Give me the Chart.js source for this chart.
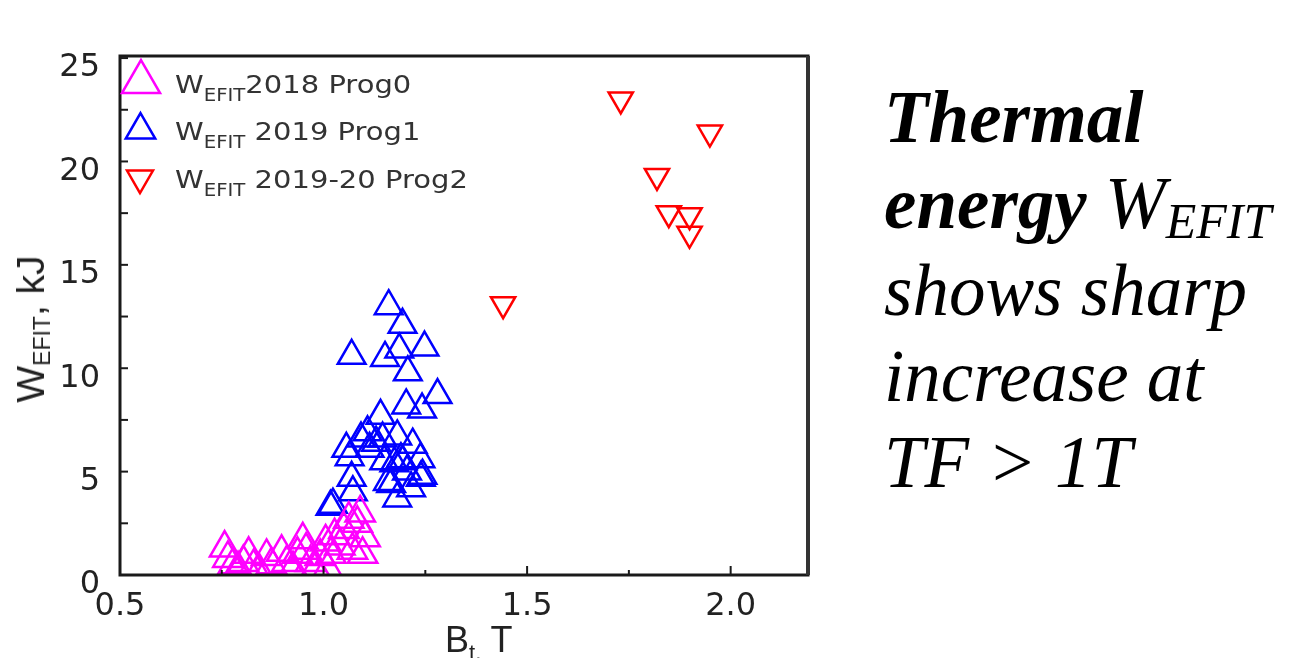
<!DOCTYPE html>
<html>
<head>
<meta charset="utf-8">
<script src="https://cdn.jsdelivr.net/npm/chart.js@4.4.0/dist/chart.umd.min.js"></script>
<style>
  body { margin: 0; background: #fff; width: 1291px; height: 658px; overflow: hidden; position: relative; }
  #plot { position: absolute; left: 0; top: 0; }
  .lbl { position: absolute; font-family: "Liberation Sans", Arial, sans-serif; color: #222; white-space: nowrap; }
  .lbl sub { line-height: 0; }
  #xTitle { left: 445px; top: 622px; font-size: 36px; line-height: 36px; }
  #xTitle sub { font-size: 22px; vertical-align: -8px; }
  #yTitle { left: 31px; top: 329px; font-size: 39px; line-height: 40px; transform: translate(-50%, -50%) rotate(-90deg); }
  #yTitle sub { font-size: 23px; vertical-align: -6px; }
  .leg { font-family: "DejaVu Sans", sans-serif; font-size: 25px; line-height: 25px; color: #333; left: 175px; transform: scaleX(1.16); transform-origin: left center; }
  .leg sub { font-size: 17px; vertical-align: -8px; }
  #note { position: absolute; left: 884px; top: 75px; font-family: "Liberation Serif", "Times New Roman", serif; font-style: italic; font-size: 73px; line-height: 86.3px; color: #000; white-space: nowrap; }
  #note sub { font-size: 50px; line-height: 0; vertical-align: -10px; }
</style>
</head>
<body>
<canvas id="plot" width="860" height="658"></canvas>
<div class="lbl" id="yTitle">W<sub>EFIT</sub>, kJ</div>
<div class="lbl" id="xTitle">B<sub>t,</sub> T</div>
<div class="lbl leg" style="top:72px">W<sub>EFIT</sub>2018 Prog0</div>
<div class="lbl leg" style="top:119px">W<sub>EFIT</sub> 2019 Prog1</div>
<div class="lbl leg" style="top:167px">W<sub>EFIT</sub> 2019-20 Prog2</div>
<div id="note">
  <div><b>Thermal</b></div>
  <div><b>energy</b> W<sub>EFIT</sub></div>
  <div>shows sharp</div>
  <div>increase at</div>
  <div>TF &gt; 1T</div>
</div>
<script>
// valori: B_t (T) e W_EFIT (kJ)
const prog0Bt = [0.757, 0.765, 0.778, 0.790, 0.803, 0.816, 0.828, 0.842, 0.860, 0.872, 0.897, 0.910, 0.925, 0.936, 0.949, 0.957, 0.968, 0.980, 0.992, 1.005, 1.010, 1.018, 1.027, 1.040, 1.050, 1.062, 1.071, 1.083, 1.090, 1.096, 1.102];
const prog0W  = [1.3, 0.8, 0.5, 0.3, 0.6, 1.0, 0.4, 0.2, 0.9, 0.5, 1.1, 0.6, 0.3, 1.0, 1.7, 1.2, 0.6, 0.3, 0.9, 1.6, 0.3, 1.0, 1.9, 1.4, 2.2, 2.7, 1.2, 2.5, 3.0, 1.0, 1.8];

const prog1Bt = [1.160, 1.194, 1.069, 1.248, 1.151, 1.186, 1.207, 1.280, 1.203, 1.242, 1.140, 1.092, 1.145, 1.181, 1.219, 1.056, 1.238, 1.190, 1.149, 1.064, 1.069, 1.239, 1.166, 1.215, 1.181, 1.072, 1.017, 1.113, 1.174, 1.129, 1.194, 1.243, 1.158, 1.108, 1.205, 1.023];
const prog1W  = [13.0, 12.1, 10.6, 11.0, 10.5, 10.9, 9.8, 8.7, 8.2, 8.0, 7.7, 6.6, 6.6, 6.7, 6.3, 6.1, 5.6, 5.6, 5.5, 5.7, 4.7, 4.7, 4.4, 4.2, 3.7, 4.0, 3.3, 6.1, 5.4, 6.4, 5.5, 4.8, 4.5, 6.9, 5.0, 3.4];

const prog2Bt = [1.441, 1.730, 1.819, 1.848, 1.899, 1.899, 1.949];
const prog2W  = [13.1, 23.0, 19.3, 17.5, 17.4, 16.5, 21.4];

const xTickValues = [0.5, 0.75, 1.0, 1.25, 1.5, 1.75, 2.0];
const xTickLabels = ['0.5', '', '1.0', '', '1.5', '', '2.0'];
const yTickValues = [0, 2.5, 5, 7.5, 10, 12.5, 15, 17.5, 20, 22.5, 25];
const yTickLabels = ['0', '', '5', '', '10', '', '15', '', '20', '', '25'];

const toPoints = (xs, ys) => xs.map((x, i) => ({ x: x, y: ys[i] }));

const datasets = [
  { label: 'WEFIT 2018 Prog0', data: toPoints(prog0Bt, prog0W), pointStyle: 'triangle', rotation: 0, pointRadius: 17, borderColor: '#ff00ff', legendRadius: 22 },
  { label: 'WEFIT 2019 Prog1', data: toPoints(prog1Bt, prog1W), pointStyle: 'triangle', rotation: 0, pointRadius: 16, borderColor: '#0000ff', legendRadius: 17 },
  { label: 'WEFIT 2019-20 Prog2', data: toPoints(prog2Bt, prog2W), pointStyle: 'triangle', rotation: 180, pointRadius: 14, borderColor: '#ff0000', legendRadius: 15 }
].map(d => Object.assign(d, { backgroundColor: 'rgba(0,0,0,0)', borderWidth: 2.5, pointBorderWidth: 2.5, pointHoverRadius: d.pointRadius }));

// posizione dei simboli della legenda (il testo e' in html)
const legendPos = [[141, 82], [140.5, 130], [140, 178]];

// cornice, tacche interne e simboli della legenda
const cornice = {
  id: 'cornice',
  afterDraw(chart) {
    const { ctx, chartArea: a, scales } = chart;
    ctx.save();
    ctx.strokeStyle = '#1a1a1a';
    ctx.lineWidth = 2;
    scales.y.ticks.forEach(t => {
      const py = scales.y.getPixelForValue(t.value);
      ctx.beginPath();
      ctx.moveTo(a.left, py);
      ctx.lineTo(a.left + 8, py);
      ctx.stroke();
    });
    scales.x.ticks.forEach((t, i) => {
      const px = scales.x.getPixelForValue(t.value);
      const len = xTickLabels[i] ? 9 : 5;
      ctx.beginPath();
      ctx.moveTo(px, a.bottom);
      ctx.lineTo(px, a.bottom - len);
      ctx.stroke();
    });
    ctx.lineWidth = 3;
    ctx.strokeRect(a.left, a.top, a.right - a.left, a.bottom - a.top);
    ctx.lineWidth = 4;
    ctx.strokeStyle = '#333';
    ctx.beginPath();
    ctx.moveTo(a.right, a.top);
    ctx.lineTo(a.right, a.bottom);
    ctx.stroke();

    chart.data.datasets.forEach((d, i) => {
      ctx.strokeStyle = d.borderColor;
      ctx.fillStyle = 'rgba(0,0,0,0)';
      ctx.lineWidth = 2.5;
      Chart.helpers.drawPoint(ctx, { pointStyle: d.pointStyle, rotation: d.rotation, radius: d.legendRadius, borderWidth: 2.5 }, legendPos[i][0], legendPos[i][1]);
    });
    ctx.restore();
  }
};

const tickFont = { family: 'DejaVu Sans', size: 32 };

new Chart(document.getElementById('plot').getContext('2d'), {
  type: 'scatter',
  data: { datasets: datasets },
  options: {
    responsive: false,
    animation: false,
    layout: { padding: { top: 56, right: 52, left: 0, bottom: 0 } },
    plugins: { legend: { display: false }, tooltip: { enabled: false } },
    scales: {
      x: {
        type: 'linear', min: 0.5, max: 2.19,
        grid: { display: false, drawTicks: false },
        border: { display: false },
        afterBuildTicks: s => { s.ticks = xTickValues.map(v => ({ value: v })); },
        afterFit: s => { s.height = 83; },
        ticks: { font: tickFont, color: '#222', padding: 12, maxRotation: 0, autoSkip: false, callback: (v, i) => xTickLabels[i] }
      },
      y: {
        type: 'linear', min: 0, max: 25.1,
        grid: { display: false, drawTicks: false },
        border: { display: false },
        afterBuildTicks: s => { s.ticks = yTickValues.map(v => ({ value: v })); },
        afterFit: s => { s.width = 120; },
        ticks: { font: tickFont, color: '#222', padding: 20, labelOffset: 10, autoSkip: false, callback: (v, i) => yTickLabels[i] }
      }
    }
  },
  plugins: [cornice]
});
</script>
</body>
</html>
